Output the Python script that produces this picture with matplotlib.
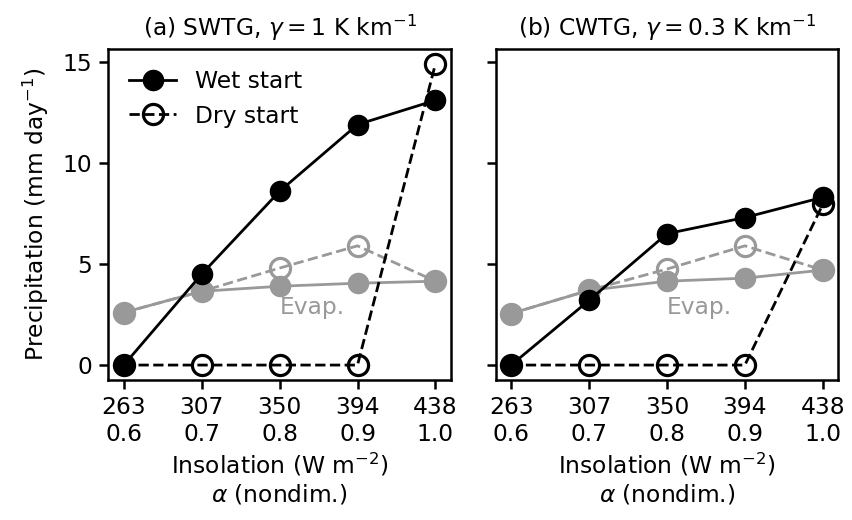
import numpy as np
import matplotlib
matplotlib.use("Agg")
import matplotlib.pyplot as plt

# insolation scaling factor and the matching insolation values
alpha = [0.6, 0.7, 0.8, 0.9, 1.0]
insolation = [263, 307, 350, 394, 438]
tick_labels = [f"{s}\n{a:.1f}" for s, a in zip(insolation, alpha)]

# (a) SWTG, gamma = 1 K/km
swtg_wet_precip = [0.0, 4.5, 8.6, 11.9, 13.1]
swtg_dry_precip = [0.0, 0.0, 0.0, 0.0, 14.9]
swtg_wet_evap = [2.6, 3.65, 3.9, 4.05, 4.15]
swtg_dry_evap = [2.6, 3.65, 4.8, 5.9, 4.15]

# (b) CWTG, gamma = 0.3 K/km
cwtg_wet_precip = [0.0, 3.2, 6.5, 7.3, 8.3]
cwtg_dry_precip = [0.0, 0.0, 0.0, 0.0, 7.95]
cwtg_wet_evap = [2.55, 3.7, 4.15, 4.3, 4.7]
cwtg_dry_evap = [2.55, 3.7, 4.75, 5.9, 4.7]

titles = [r"(a) SWTG, $\gamma = 1$ K km$^{-1}$",
          r"(b) CWTG, $\gamma = 0.3$ K km$^{-1}$"]

fs = 16.8
plt.rcParams["font.family"] = ["DejaVu Sans"]
plt.rcParams["mathtext.fontset"] = "dejavusans"
plt.rcParams["font.size"] = fs
plt.rcParams["axes.titlesize"] = fs
plt.rcParams["axes.labelsize"] = fs
plt.rcParams["legend.fontsize"] = fs
plt.rcParams["axes.linewidth"] = 1.8
plt.rcParams["xtick.major.width"] = 1.8
plt.rcParams["ytick.major.width"] = 1.8
plt.rcParams["xtick.major.size"] = 6.5
plt.rcParams["ytick.major.size"] = 6.5
plt.rcParams["xtick.major.pad"] = 5
plt.rcParams["ytick.major.pad"] = 5

fig, axes = plt.subplots(1, 2, figsize=(8.52, 5.2), dpi=100, sharey=True)
fig.subplots_adjust(left=0.127, right=0.984, top=0.906, bottom=0.269, wspace=0.13)

grey = "0.6"
ms, lw = 14.5, 2.0
panels = [
    (swtg_wet_precip, swtg_dry_precip, swtg_wet_evap, swtg_dry_evap),
    (cwtg_wet_precip, cwtg_dry_precip, cwtg_wet_evap, cwtg_dry_evap),
]

for ax, title, (wp, dp, we, de) in zip(axes, titles, panels):
    ax.plot(alpha, de, "--o", color=grey, mfc="none", mec=grey, mew=2.3,
            ms=ms, lw=lw)
    ax.plot(alpha, we, "-o", color=grey, ms=ms, lw=lw)
    ax.plot(alpha, wp, "-o", color="k", ms=ms, lw=lw, label="Wet start")
    ax.plot(alpha, dp, "--o", color="k", mfc="none", mec="k", mew=2.3,
            ms=ms, lw=lw, label="Dry start")
    ax.text(0.8, 2.85, "Evap.", color=grey, ha="left", va="center")
    ax.set_title(title, pad=9)
    ax.set_xticks(alpha)
    ax.set_xticklabels(tick_labels)
    ax.set_xlabel("Insolation (W m$^{-2}$)\n" + r"$\alpha$ (nondim.)")

axes[0].set_ylabel("Precipitation (mm day$^{-1}$)", labelpad=8)
axes[0].set_yticks([0, 5, 10, 15])
axes[0].legend(loc="upper left", frameon=False)

fig.savefig("out.png", dpi=100)
